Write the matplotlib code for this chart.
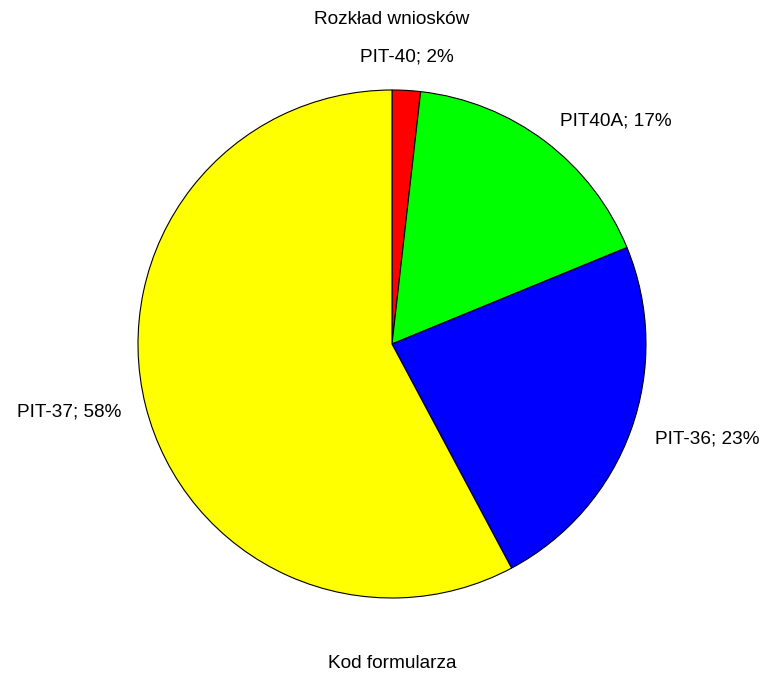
import matplotlib
matplotlib.use("Agg")
import matplotlib.pyplot as plt

# ── data ────────────────────────────────────────────────────────────────────
labels = ["PIT-40", "PIT40A", "PIT-36", "PIT-37"]
shares = [1.8, 17.0, 23.4, 57.8]   # labels show rounded %
colors = ["#ff0000", "#00ff00", "#0000ff", "#ffff00"]

plt.rcParams["font.family"] = ["Liberation Sans", "DejaVu Sans"]
FS = 13.7

W, H = 763, 673
fig = plt.figure(figsize=(W / 100, H / 100), dpi=100, facecolor="white")

# pie centre (392, 344) px, radius 254 px
cx, cy, r = 392, 344, 254
ax = fig.add_axes([(cx - r) / W, (H - cy - r) / H, 2 * r / W, 2 * r / H])

texts_lbl = [f"{l}; {s:.0f}%" for l, s in zip(labels, shares)]
wedges, texts = ax.pie(shares, labels=texts_lbl, colors=colors,
                       startangle=90, counterclock=False,
                       labeldistance=1.1,
                       wedgeprops=dict(edgecolor="black", linewidth=0.8),
                       textprops=dict(fontsize=FS))
# small slice label sits centred above the pie
texts[0].set_ha("center")
texts[0].set_position((0.06, 1.13))

ax.set_xlim(-1, 1)
ax.set_ylim(-1, 1)
ax.axis("off")

fig.text(cx / W, 1 - 20 / H, "Rozkład wniosków", ha="center", va="center", fontsize=FS)
fig.text(cx / W, 1 - 664 / H, "Kod formularza", ha="center", va="center", fontsize=FS)

fig.savefig("out.png", dpi=100, facecolor="white")
